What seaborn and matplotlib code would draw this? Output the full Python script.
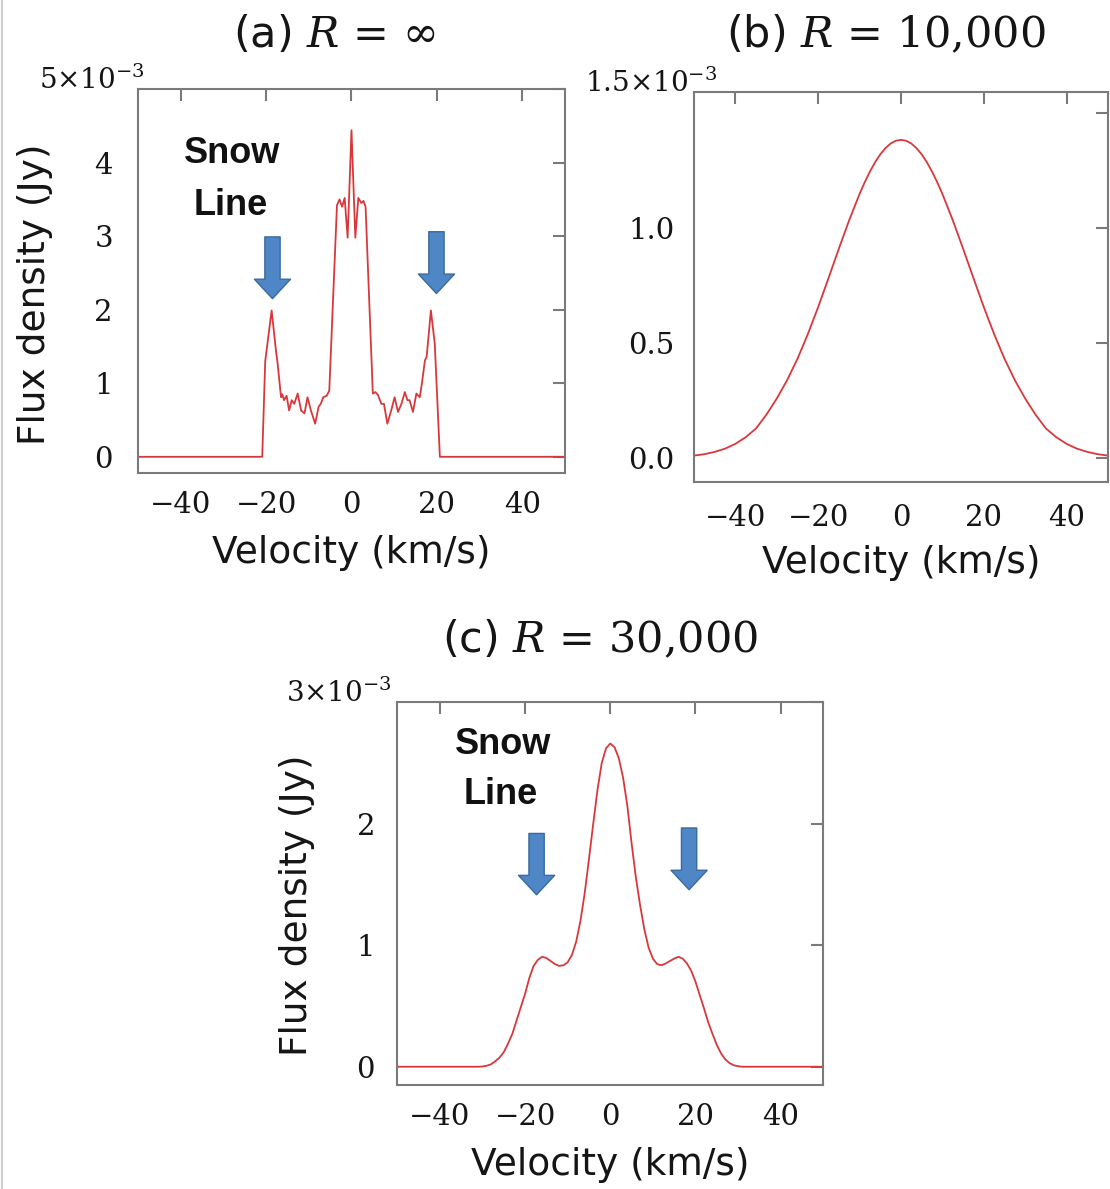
import numpy as np
import matplotlib
matplotlib.use("Agg")
import matplotlib.pyplot as plt
from matplotlib.patches import FancyArrowPatch
import seaborn as sns

# velocity (km/s) and flux density (units of 1e-3 Jy)
vel_a = [-50, -20.9, -20.2, -18.7, -17.7, -17.3, -16.5, -16.2, -15.8, -15.2, -14.6,
         -14.0, -13.4, -12.6, -11.8, -11.0, -10.3, -9.5, -8.5, -7.7, -7.2,
         -6.6, -5.8, -5.2, -3.4, -2.8, -2.2, -1.6, -0.9, 0, 0.9,
         1.6, 2.3, 2.8, 3.3, 5.0, 5.6, 6.2, 7.0, 7.6, 8.4,
         9.3, 10.1, 10.9, 11.7, 12.5, 13.1, 13.6, 14.4, 15.2, 16.0,
         16.5, 17.2, 17.6, 18.6, 19.5, 20.7, 50]
flux_a = [0, 0, 1.30, 1.99, 1.45, 1.27, 0.81, 0.85, 0.77, 0.83, 0.63,
          0.77, 0.72, 0.86, 0.63, 0.59, 0.81, 0.63, 0.45, 0.68, 0.72,
          0.81, 0.83, 0.90, 3.42, 3.50, 3.40, 3.52, 2.98, 4.44, 2.98,
          3.52, 3.45, 3.48, 3.40, 0.86, 0.88, 0.84, 0.72, 0.72, 0.45,
          0.63, 0.81, 0.61, 0.72, 0.88, 0.77, 0.77, 0.61, 0.86, 0.81,
          1.00, 1.31, 1.36, 1.99, 1.54, 0, 0]

vel_b = [-50, -47.5, -45, -42.5, -40, -37.5, -35, -32.5, -30, -27.5, -25,
         -22.5, -20, -17.5, -15, -12.5, -10, -8.75, -7.5, -6.25, -5, -3.75, -2.5, -1.25, 0,
         1.25, 2.5, 3.75, 5, 6.25, 7.5, 8.75, 10, 12.5, 15, 17.5, 20, 22.5, 25,
         27.5, 30, 32.5, 35, 37.5, 40, 42.5, 45, 47.5, 50]
flux_b = [0.012, 0.018, 0.028, 0.042, 0.063, 0.092, 0.13, 0.19, 0.26, 0.34, 0.433,
          0.54, 0.658, 0.784, 0.912, 1.036, 1.15, 1.201, 1.247, 1.288, 1.322, 1.349, 1.369, 1.381, 1.385,
          1.381, 1.369, 1.349, 1.322, 1.288, 1.247, 1.201, 1.15, 1.036, 0.912, 0.784, 0.658, 0.54, 0.433,
          0.34, 0.26, 0.19, 0.13, 0.092, 0.063, 0.042, 0.028, 0.018, 0.012]

vel_c = [-50, -31, -30, -29, -28, -27, -26, -25, -24, -23, -22, -21, -20, -19, -18, -17, -16,
         -15, -14, -13, -12, -11, -10, -9, -8, -7, -6, -5, -4, -3, -2, -1, 0,
         1, 2, 3, 4, 5, 6, 7, 8, 9, 10, 11, 12, 13, 14, 15, 16,
         17, 18, 19, 20, 21, 22, 23, 24, 25, 26, 27, 28, 29, 30, 31, 50]
flux_c = [0, 0, 0.002, 0.008, 0.02, 0.045, 0.075, 0.12, 0.19, 0.27, 0.38, 0.49, 0.60, 0.73, 0.83, 0.88, 0.905,
          0.895, 0.87, 0.845, 0.83, 0.835, 0.86, 0.92, 1.03, 1.20, 1.43, 1.71, 2.00, 2.28, 2.50, 2.62, 2.66,
          2.63, 2.54, 2.38, 2.15, 1.84, 1.56, 1.33, 1.13, 0.98, 0.89, 0.845, 0.835, 0.85, 0.87, 0.89, 0.905,
          0.89, 0.85, 0.79, 0.70, 0.59, 0.48, 0.365, 0.27, 0.18, 0.11, 0.06, 0.03, 0.012, 0.004, 0, 0]

xticks = [-40, -20, 0, 20, 40]
titles = ["(a) $R$ = $\\infty$", "(b) $R$ = $10{,}000$", "(c) $R$ = $30{,}000$"]
scale_labels = ["$5{\\times}10^{-3}$", "$1.5{\\times}10^{-3}$", "$3{\\times}10^{-3}$"]

sns.set_style("white")
plt.rcParams["font.family"] = ["DejaVu Sans"]
plt.rcParams["mathtext.fontset"] = "dejavuserif"

LINE = "#D8383C"
FRAME = "#7a7a7a"
TXT = "#151515"
ARROW_FC = "#4F86C6"
ARROW_EC = "#3A6A9E"

fig = plt.figure(figsize=(11.10, 11.89), dpi=100)
ax_a = fig.add_axes([0.1243, 0.6022, 0.3847, 0.3229])
ax_b = fig.add_axes([0.6252, 0.5946, 0.3730, 0.3280])
ax_c = fig.add_axes([0.3579, 0.0875, 0.3838, 0.3219])


def style_axis(ax, ylim, yticks, ylabels, xpad, ypad, ylab=True):
    ax.set_xlim(-50, 50)
    ax.set_ylim(*ylim)
    ax.set_xticks(xticks)
    ax.set_xticklabels(["\u221240", "\u221220", "0", "20", "40"])
    ax.set_yticks(yticks)
    ax.set_yticklabels(ylabels)
    for lab in ax.get_xticklabels() + ax.get_yticklabels():
        lab.set_family("DejaVu Serif")
        lab.set_fontsize(21)
    ax.tick_params(axis="both", direction="in", length=8.5, width=1.5, color=FRAME,
                   top=True, right=True, labelcolor=TXT)
    ax.tick_params(axis="x", pad=xpad)
    ax.tick_params(axis="y", pad=ypad)
    for s in ax.spines.values():
        s.set_color(FRAME)
        s.set_linewidth(1.5)
        s.set_visible(True)
    ax.set_xlabel("Velocity (km/s)", fontsize=27, color=TXT)
    ax.xaxis.set_label_coords(0.5, -0.162)
    if ylab:
        ax.set_ylabel("Flux density (Jy)", fontsize=27, color=TXT)
    else:
        ax.set_ylabel("")


def arrow(ax, x, y0, y1):
    p = FancyArrowPatch((x, y0), (x, y1), arrowstyle="simple,head_length=14,head_width=26,tail_width=11",
                        mutation_scale=1, shrinkA=0, shrinkB=0, fc=ARROW_FC, ec=ARROW_EC, lw=1.0,
                        zorder=5)
    ax.add_patch(p)


# (a)
sns.lineplot(x=vel_a, y=flux_a, ax=ax_a, color=LINE, lw=1.3)
style_axis(ax_a, (-0.22, 5.0), [0, 1, 2, 3, 4, 5], ["0", "1", "2", "3", "4", ""], 13, 18)
ax_a.yaxis.set_label_coords(-0.20, 0.465)
ax_a.text(-28, 4.13, "Snow", ha="center", va="center", fontsize=26, fontweight="bold",
          family="Liberation Sans", color="#111111")
ax_a.text(-28.3, 3.42, "Line", ha="center", va="center", fontsize=26, fontweight="bold",
          family="Liberation Sans", color="#111111")
arrow(ax_a, -18.5, 2.99, 2.15)
arrow(ax_a, 19.9, 3.06, 2.22)
ax_a.text(0.016, 1.0, scale_labels[0], transform=ax_a.transAxes, ha="right", va="baseline",
          fontsize=20, color=TXT)

# (b)
sns.lineplot(x=vel_b, y=flux_b, ax=ax_b, color=LINE, lw=1.3)
style_axis(ax_b, (-0.103, 1.593), [0, 0.5, 1.0, 1.5], ["0.0", "0.5", "1.0", ""], 16, 14, ylab=False)
ax_b.text(0.056, 1.0, scale_labels[1], transform=ax_b.transAxes, ha="right", va="baseline",
          fontsize=20, color=TXT)

# (c)
sns.lineplot(x=vel_c, y=flux_c, ax=ax_c, color=LINE, lw=1.3)
style_axis(ax_c, (-0.15, 3.0), [0, 1, 2, 3], ["0", "1", "2", ""], 13, 16)
ax_c.yaxis.set_label_coords(-0.193, 0.47)
ax_c.text(-25.2, 2.65, "Snow", ha="center", va="center", fontsize=26, fontweight="bold",
          family="Liberation Sans", color="#111111")
ax_c.text(-25.6, 2.24, "Line", ha="center", va="center", fontsize=26, fontweight="bold",
          family="Liberation Sans", color="#111111")
arrow(ax_c, -17.3, 1.92, 1.415)
arrow(ax_c, 18.5, 1.965, 1.457)
ax_c.text(-0.012, 1.0, scale_labels[2], transform=ax_c.transAxes, ha="right", va="baseline",
          fontsize=20, color=TXT)

# panel titles
fig.text(0.3009, 0.9706, titles[0], ha="center", va="center", fontsize=31, color=TXT)
fig.text(0.7982, 0.9706, titles[1], ha="center", va="center", fontsize=31, color=TXT)
fig.text(0.5405, 0.4617, titles[2], ha="center", va="center", fontsize=31, color=TXT)

fig.add_artist(plt.Line2D([0.0018, 0.0018], [0, 1], color="#cfcfcf", lw=1.5))

fig.savefig("out.png", dpi=100)
